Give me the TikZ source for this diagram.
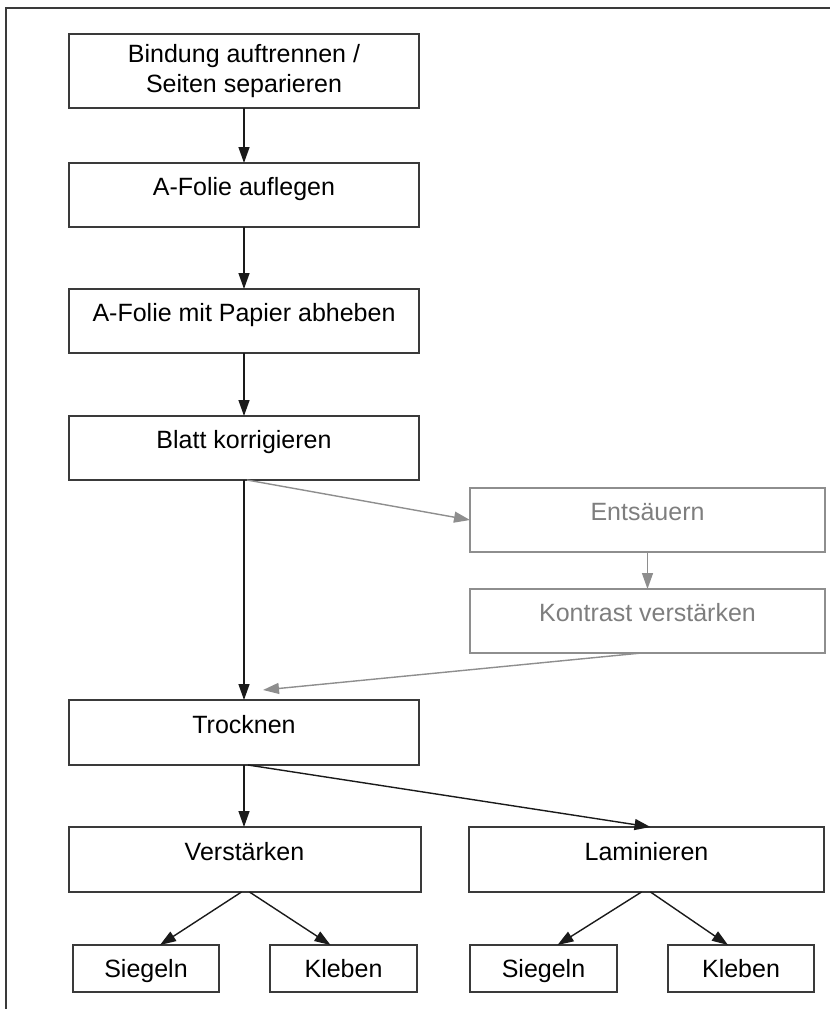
\documentclass[tikz,border=0pt]{standalone}
\usepackage{fontspec}
\setmainfont{Liberation Sans}
\usetikzlibrary{arrows.meta}
\definecolor{boxline}{HTML}{3A3A3A}
\definecolor{arrowline}{HTML}{1A1A1A}
\definecolor{greyline}{HTML}{8E8E8E}
\definecolor{greytext}{HTML}{7E7E7E}
\tikzset{
  box/.style={draw=boxline, line width=2pt, rectangle, inner sep=0pt, outer sep=0pt,
    font=\fontsize{25}{30.5}\selectfont, align=center, text=black},
  upper/.style={text height=18pt, text depth=17pt},
  mid/.style={text height=18pt, text depth=0pt},
  greybox/.style={box, draw=greyline, text=greytext},
  arr/.style={draw=arrowline, line width=1.4pt, -{Triangle[length=16pt,width=11pt]}},
  garr/.style={draw=greyline, line width=1.4pt, -{Triangle[length=16pt,width=11pt]}},
  frame/.style={draw=boxline, line width=1.5pt}
}
\begin{document}
\begin{tikzpicture}[x=1pt,y=-1pt]
\useasboundingbox (0,0) rectangle (830,1009);
\draw[frame] (6,1009) -- (6,8) -- (830,8);

\node[box, minimum width=350pt, minimum height=74pt] (b1) at (244,71) {Bindung auftrennen /\\Seiten separieren};
\node[box, upper, minimum width=350pt, minimum height=64pt] (b2) at (244,195) {A-Folie auflegen};
\node[box, upper, minimum width=350pt, minimum height=64pt] (b3) at (244,321) {A-Folie mit Papier abheben};
\node[box, upper, minimum width=350pt, minimum height=64pt] (b4) at (244,448) {Blatt korrigieren};
\node[greybox, upper, minimum width=355pt, minimum height=64pt] (ents) at (647.5,520) {Entsäuern};
\node[greybox, upper, minimum width=355pt, minimum height=64pt] (kontr) at (647.5,621) {Kontrast verstärken};
\node[box, upper, minimum width=350pt, minimum height=65pt] (trock) at (244,732.5) {Trocknen};
\node[box, upper, minimum width=352pt, minimum height=65pt] (verst) at (244.5,859.5) {Verstärken};
\node[box, upper, minimum width=355pt, minimum height=65pt] (lamin) at (646.5,859.5) {Laminieren};
\node[box, mid, minimum width=146pt, minimum height=47pt] (s1) at (146,968.5) {Siegeln};
\node[box, mid, minimum width=147pt, minimum height=47pt] (k1) at (343.5,968.5) {Kleben};
\node[box, mid, minimum width=147pt, minimum height=47pt] (s2) at (543.5,968.5) {Siegeln};
\node[box, mid, minimum width=146pt, minimum height=47pt] (k2) at (741,968.5) {Kleben};

\coordinate (tin) at (263,690);

\draw[arr] (b1.south) -- (b2.north);
\draw[arr] (b2.south) -- (b3.north);
\draw[arr] (b3.south) -- (b4.north);
\draw[arr] (b4.south) -- (trock.north);
\draw[garr] ([xshift=3pt]b4.south) -- (ents.west);
\draw[garr] (ents.south) -- (kontr.north);
\draw[garr] ([xshift=-6pt]kontr.south) -- (tin);
\draw[arr] (trock.south) -- (trock.south |- verst.north);
\draw[arr] ([xshift=4pt]trock.south) -- ([xshift=4pt]lamin.north);
\draw[arr] ([xshift=-3pt]verst.south) -- ([xshift=14pt]s1.north);
\draw[arr] ([xshift=5pt]verst.south) -- ([xshift=-13pt]k1.north);
\draw[arr] ([xshift=-5pt]lamin.south) -- ([xshift=14pt]s2.north);
\draw[arr] ([xshift=4pt]lamin.south) -- ([xshift=-13pt]k2.north);
\end{tikzpicture}
\end{document}
